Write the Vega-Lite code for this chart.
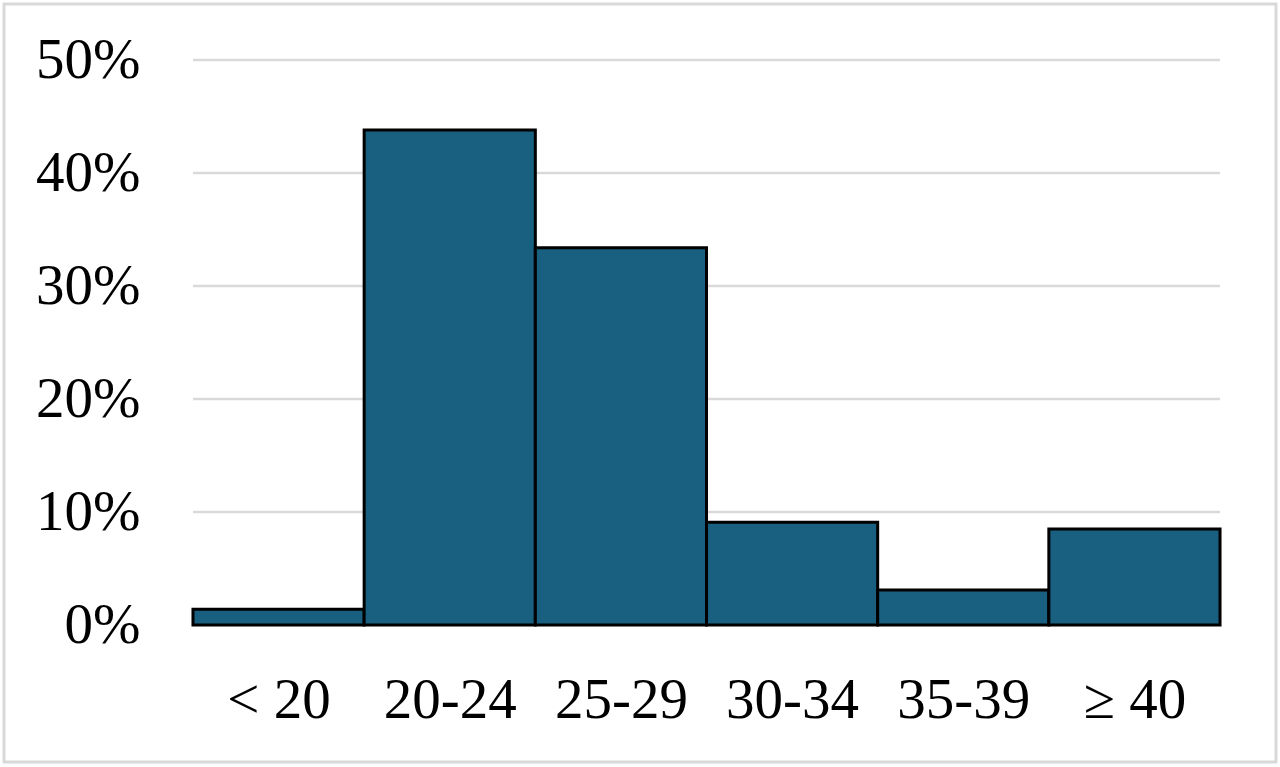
{
  "$schema": "https://vega.github.io/schema/vega-lite/v6.json",
  "width": 1272,
  "height": 758,
  "autosize": {"type": "none"},
  "padding": {"left": 4, "top": 4, "right": 4, "bottom": 5},
  "background": "white",
  "config": {
    "view": {"stroke": "#d9d9d9", "strokeWidth": 3},
    "font": "Liberation Serif"
  },
  "datasets": {
    "ages": [
      {"group": "< 20", "from": 15, "to": 20, "pct": 1.4},
      {"group": "20-24", "from": 20, "to": 25, "pct": 43.8},
      {"group": "25-29", "from": 25, "to": 30, "pct": 33.4},
      {"group": "30-34", "from": 30, "to": 35, "pct": 9.1},
      {"group": "35-39", "from": 35, "to": 40, "pct": 3.1},
      {"group": "≥ 40", "from": 40, "to": 45, "pct": 8.5}
    ],
    "grid": [
      {"v": 10}, {"v": 20}, {"v": 30}, {"v": 40}, {"v": 50}
    ]
  },
  "layer": [
    {
      "data": {"name": "grid"},
      "mark": {"type": "rule", "color": "#d9d9d9", "strokeWidth": 2.5},
      "encoding": {
        "y": {"field": "v", "type": "quantitative",
              "scale": {"domain": [-12.12, 54.96], "nice": false, "zero": false},
              "axis": {
                "orient": "left", "offset": -136, "title": null,
                "values": [0, 10, 20, 30, 40, 50],
                "labelExpr": "datum.value + '%'",
                "domain": false, "ticks": false, "grid": false,
                "labelPadding": 0, "labelAlign": "right", "labelBaseline": "middle",
                "labelFont": "Liberation Serif", "labelFontSize": 57, "labelColor": "black"
              }},
        "x": {"datum": 15, "type": "quantitative",
              "scale": {"domain": [9.48, 46.635], "nice": false, "zero": false},
              "axis": {
                "orient": "bottom", "offset": -45, "title": null,
                "values": [17.5, 22.5, 27.5, 32.5, 37.5, 42.5],
                "labelExpr": "datum.value < 20 ? '< 20' : datum.value < 25 ? '20-24' : datum.value < 30 ? '25-29' : datum.value < 35 ? '30-34' : datum.value < 40 ? '35-39' : '≥ 40'",
                "domain": false, "ticks": false, "grid": false,
                "labelPadding": 0, "labelBaseline": "alphabetic",
                "labelFont": "Liberation Serif", "labelFontSize": 57, "labelColor": "black"
              }},
        "x2": {"datum": 45}
      }
    },
    {
      "data": {"name": "ages"},
      "mark": {"type": "bar", "color": "#185f80", "stroke": "black", "strokeWidth": 3},
      "encoding": {
        "x": {"field": "from", "type": "quantitative"},
        "x2": {"field": "to"},
        "y": {"field": "pct", "type": "quantitative"},
        "y2": {"datum": 0}
      }
    }
  ]
}
